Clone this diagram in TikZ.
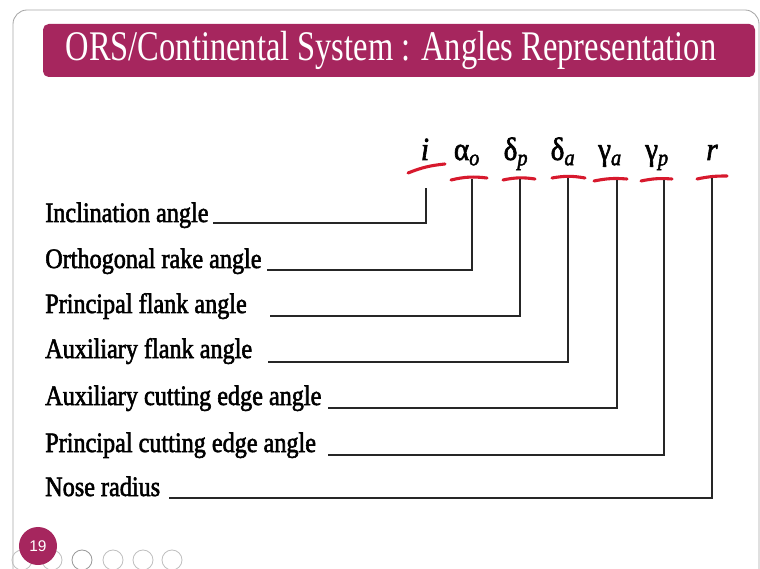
\documentclass[tikz,border=0pt]{standalone}
\usepackage{fontspec}
\setmainfont{Liberation Serif}
\newfontfamily\titlefont[FakeStretch=0.77]{Liberation Serif}
\newfontfamily\labelfont[FakeStretch=0.86,FakeBold=2]{Liberation Serif}
\newfontfamily\symfont[FakeStretch=0.9,FakeBold=2]{Liberation Serif}
\newfontfamily\numfont{Liberation Sans}
\usepackage{xcolor}
\usetikzlibrary{positioning, calc}
\definecolor{slidemag}{RGB}{166,38,94}
\definecolor{markred}{RGB}{215,25,45}

\begin{document}
\begin{tikzpicture}[x=0.025cm, y=-0.025cm]
    \tikzstyle{lbl} = [anchor=base west, inner sep=0pt, font=\labelfont\fontsize{20}{24}\selectfont]
    \tikzstyle{sym} = [anchor=base, inner sep=0pt, font=\symfont\fontsize{23}{26}\selectfont]
    \tikzstyle{link} = [line width=1.4pt, black!85]
    \tikzstyle{redstroke} = [line width=2.2pt, markred, line cap=round]
    \tikzstyle{icon} = [circle, draw=black!25, line width=0.6pt, minimum size=0.5cm, inner sep=0pt]

    \clip (0,0) rectangle (760,569);

    % slide frame and title bar
    \draw[black!35, line width=0.6pt, rounded corners=10pt] (13,10) rectangle (759,640);
    \fill[slidemag, rounded corners=4pt] (43,24) rectangle (755,77);
    \node (title) at (391,50) [text=white, font=\titlefont\fontsize{30}{34}\selectfont] {ORS/Continental System : Angles Representation};

    % angle symbols
    \node (si) [sym] at (425,160) {\itshape i};
    \node (sao) [sym] at (467,160) {α\textsubscript{\itshape o}};
    \node (sdp) [sym] at (516,160) {δ\textsubscript{\itshape p}};
    \node (sda) [sym] at (563,160) {δ\textsubscript{\itshape a}};
    \node (sga) [sym] at (610,160) {γ\textsubscript{\itshape a}};
    \node (sgp) [sym] at (657,160) {γ\textsubscript{\itshape p}};
    \node (sr) [sym] at (712,160) {\itshape r};

    % red strokes under the symbols
    \draw[redstroke] (408,173) to[bend left=8] (445,164);
    \draw[redstroke] (451,180) to[bend left=10] (487,178);
    \draw[redstroke] (503,180) to[bend left=10] (535,179);
    \draw[redstroke] (552,178) to[bend left=10] (585,178);
    \draw[redstroke] (594,181) to[bend left=8] (627,179);
    \draw[redstroke] (641,181) to[bend left=8] (672,179);
    \draw[redstroke] (697,179) to[bend left=6] (727,176);

    % labels
    \node (incl) [lbl] at (45,222) {Inclination angle};
    \node (orake) [lbl] at (45,268) {Orthogonal rake angle};
    \node (pflank) [lbl] at (45,313) {Principal flank angle};
    \node (aflank) [lbl] at (45,358) {Auxiliary flank angle};
    \node (aedge) [lbl] at (45,405) {Auxiliary cutting edge angle};
    \node (pedge) [lbl] at (45,452) {Principal cutting edge angle};
    \node (nose) [lbl] at (45,496) {Nose radius};

    % line ends
    \coordinate (li) at (213,223);
    \coordinate (lao) at (267,270);
    \coordinate (ldp) at (270,316);
    \coordinate (lda) at (268,362);
    \coordinate (lga) at (328,408);
    \coordinate (lgp) at (328,455);
    \coordinate (lr) at (169,498);
    \coordinate (ti) at (426,188);
    \coordinate (tao) at (472,179);
    \coordinate (tdp) at (520,179);
    \coordinate (tda) at (568,178);
    \coordinate (tga) at (617,180);
    \coordinate (tgp) at (664,180);
    \coordinate (tr) at (712,178);

    \draw[link] (li) -| (ti);
    \draw[link] (lao) -| (tao);
    \draw[link] (ldp) -| (tdp);
    \draw[link] (lda) -| (tda);
    \draw[link] (lga) -| (tga);
    \draw[link] (lgp) -| (tgp);
    \draw[link] (lr) -| (tr);

    % slide controls
    \node (ic1) [icon] at (22,560) {};
    \node (ic2) [icon] at (52,560) {};
    \node (ic3) [icon, draw=black!40] at (82,560) {};
    \node (ic4) [icon] at (113,560) {};
    \node (ic5) [icon] at (143,560) {};
    \node (ic6) [icon] at (172,560) {};
    \node (pgnum) [circle, fill=slidemag, minimum size=0.95cm, inner sep=0pt, text=white, font=\numfont\fontsize{11}{12}\selectfont] at (38,546) {19};
\end{tikzpicture}
\end{document}
